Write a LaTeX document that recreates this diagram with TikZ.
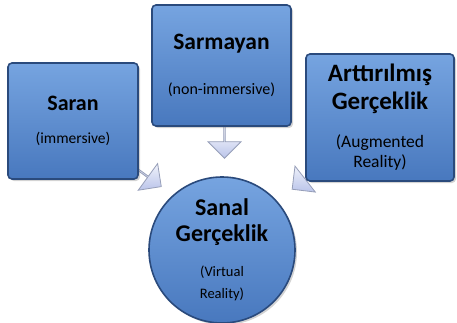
\documentclass[tikz,border=0pt]{standalone}
\usepackage{fontspec}
\setmainfont{Carlito}
\usepackage{tikz}
\usetikzlibrary{shapes.arrows, shadows, calc, backgrounds}
\definecolor{BoxTop}{RGB}{118,164,224}
\definecolor{BoxBottom}{RGB}{72,120,190}
\definecolor{BoxEdge}{RGB}{42,74,124}
\definecolor{ArrowFill}{RGB}{186,196,234}
\definecolor{ArrowEdge}{RGB}{150,158,184}

% title and subtitle lines
\newcommand{\vrtitle}[2]{{\fontsize{#1}{#1}\selectfont\bfseries #2}}
\newcommand{\vrsub}[2]{{\fontsize{#1}{#1}\selectfont #2}}

\tikzset{
  vrbox/.style={draw=BoxEdge, line width=1.6pt, rounded corners=4pt,
    top color=BoxTop, bottom color=BoxBottom, inner sep=0pt, align=center,
    font=\fontsize{10}{30}\selectfont,
    drop shadow={opacity=0.35, shadow xshift=2pt, shadow yshift=-2pt}},
  vrcircle/.style={vrbox, circle, rounded corners=0pt},
  vrarrow/.style={single arrow, draw=ArrowEdge, line width=0.8pt,
    top color=white, bottom color=ArrowFill, inner sep=0pt,
    minimum width=33pt, single arrow head extend=8pt}
}

\begin{document}
\begin{tikzpicture}[x=1pt, y=1pt]
  \useasboundingbox (0,0) rectangle (457,322);

  \node[vrbox, minimum width=130pt, minimum height=116pt] (saran) at (73,201)
    {\vrtitle{22}{Saran}\\[3pt]\vrsub{15.5}{(immersive)}};
  \node[vrbox, minimum width=139pt, minimum height=121pt] (sarmayan) at (221.5,256.5)
    {\vrtitle{23.5}{Sarmayan}\\[15pt]\vrsub{16}{(non-immersive)}};
  \node[vrbox, minimum width=148pt, minimum height=127pt] (arttir) at (380,204.5)
    {\vrtitle{25}{Arttırılmış}\\[-2pt]\vrtitle{25}{Gerçeklik}\\[8pt]%
     \vrsub{17.5}{(Augmented}\\[-10pt]\vrsub{17.5}{Reality)}};
  \node[vrcircle, minimum size=146pt] (sanal) at (222,72)
    {\vrtitle{24}{Sanal}\\[-4pt]\vrtitle{24}{Gerçeklik}\\[5pt]%
     \vrsub{14.5}{(Virtual}\\[-8pt]\vrsub{14.5}{Reality)}};

  \begin{scope}[on background layer]
    \node[vrarrow, rotate=-90, anchor=tail, minimum height=33pt] (arrmid)
      at ($(sarmayan.south)+(3,2)$) {};
    \node[vrarrow, rotate=-36, anchor=tip, minimum height=50pt] (arrleft)
      at ($(sanal.134)+(-9,10)$) {};
    \node[vrarrow, rotate=-142, anchor=tip, minimum height=50pt] (arrright)
      at ($(sanal.41)+(14,12)$) {};
  \end{scope}
\end{tikzpicture}
\end{document}
